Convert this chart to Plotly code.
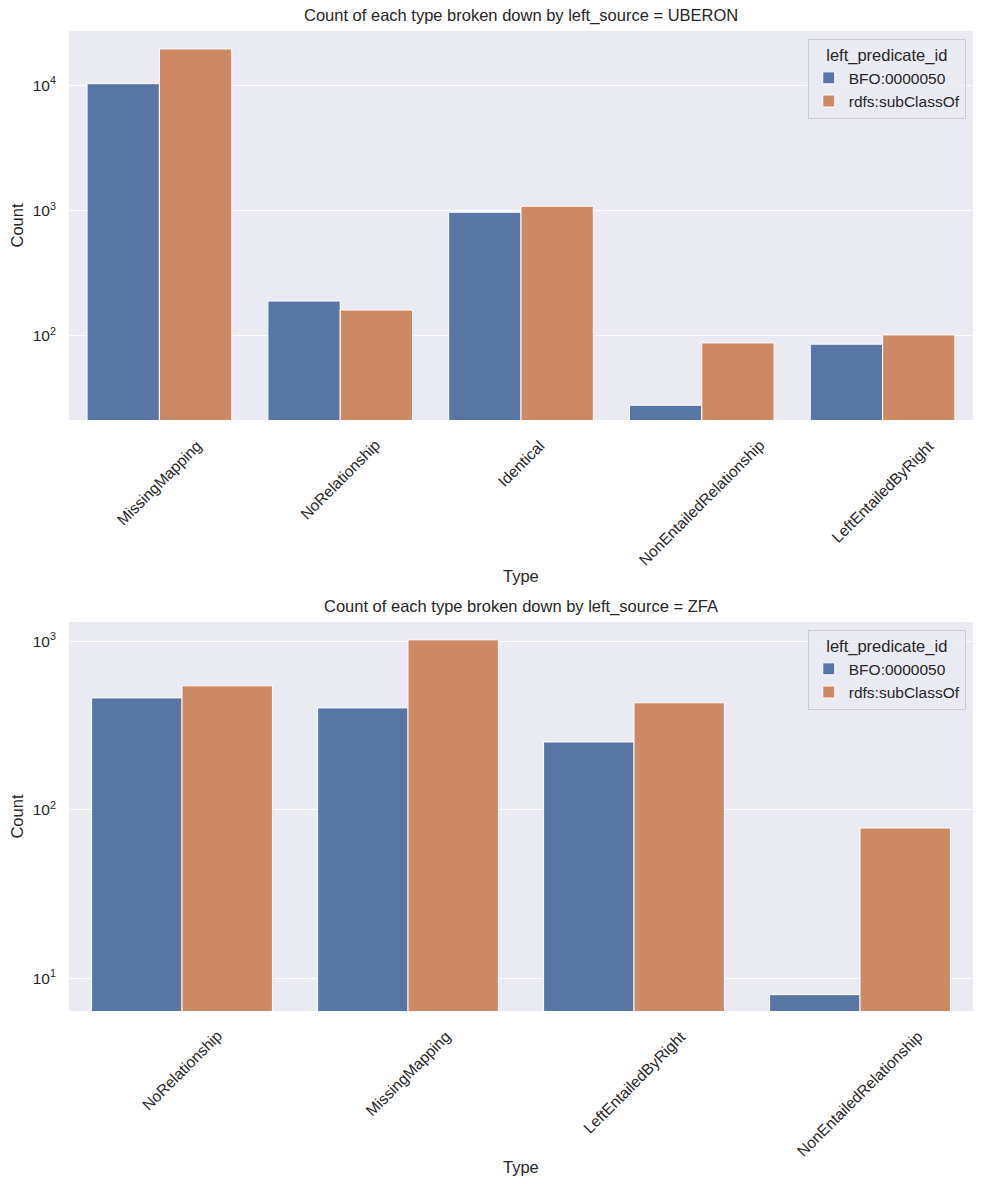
import plotly.graph_objects as go

# ---- data ----
uberon_types = ["MissingMapping", "NoRelationship", "Identical", "NonEntailedRelationship", "LeftEntailedByRight"]
uberon_bfo = [10300, 190, 970, 28, 86]
uberon_subclass = [19500, 161, 1085, 88, 102]

zfa_types = ["NoRelationship", "MissingMapping", "LeftEntailedByRight", "NonEntailedRelationship"]
zfa_bfo = [462, 403, 253, 8]
zfa_subclass = [545, 1022, 432, 78]

series_names = ["BFO:0000050", "rdfs:subClassOf"]
colors = ["#5975A4", "#CC8963"]

FONT = "Liberation Sans, Arial, sans-serif"
TXT = "#262626"

fig = go.Figure()

panels = [
    (uberon_types, [uberon_bfo, uberon_subclass], "x", "y", "legend",
     "Count of each type broken down by left_source = UBERON"),
    (zfa_types, [zfa_bfo, zfa_subclass], "x2", "y2", "legend2",
     "Count of each type broken down by left_source = ZFA"),
]

for cats, vals, xa, ya, lg, title in panels:
    for name, v, c in zip(series_names, vals, colors):
        fig.add_trace(go.Bar(
            x=cats, y=v, name=name, xaxis=xa, yaxis=ya, legend=lg,
            marker=dict(color=c, line=dict(color="white", width=1)),
        ))

common_y = dict(type="log", showgrid=True, gridcolor="white", gridwidth=1.3,
                zeroline=False, showline=False, ticks="",
                tickfont=dict(size=15.5, color=TXT, family=FONT),
                ticklabelstandoff=12,
                title=dict(text="Count", font=dict(size=16.5, color=TXT, family=FONT), standoff=4))
common_x = dict(showgrid=False, zeroline=False, showline=False, ticks="",
                showticklabels=False, type="category")

legend_common = dict(xanchor="right", yanchor="top",
                     bgcolor="rgba(234,234,242,0.8)", bordercolor="#CCCCD2", borderwidth=1,
                     title=dict(text="left_predicate_id", side="top center",
                                font=dict(size=16.5, color=TXT, family=FONT)),
                     font=dict(size=15.5, color=TXT, family=FONT),
                     tracegroupgap=4)

fig.update_layout(
    width=984, height=1184,
    margin=dict(l=69, r=11, t=31, b=173),
    paper_bgcolor="white", plot_bgcolor="#EAEAF2",
    barmode="group", bargap=0.2, bargroupgap=0,
    font=dict(family=FONT, color=TXT),
    xaxis=dict(domain=[0, 1], anchor="y", range=[-0.5, 4.5], **common_x),
    yaxis=dict(domain=[0.6031, 1], anchor="x", range=[1.33, 4.433],
               tickvals=[100, 1000, 10000],
               ticktext=["10<sup>2</sup>", "10<sup>3</sup>", "10<sup>4</sup>"], **common_y),
    xaxis2=dict(domain=[0, 1], anchor="y2", range=[-0.5, 3.5], **common_x),
    yaxis2=dict(domain=[0, 0.3969], anchor="x2", range=[0.806, 3.115],
                tickvals=[10, 100, 1000],
                ticktext=["10<sup>1</sup>", "10<sup>2</sup>", "10<sup>3</sup>"], **common_y),
    legend=dict(x=0.992, y=0.992, **legend_common),
    legend2=dict(x=0.992, y=0.389, **legend_common),
    showlegend=True,
)

annotations = []
for cats, vals, xa, ya, lg, title in panels:
    yd = ya + " domain"
    xd = xa + " domain"
    # rotated category tick labels
    for c in cats:
        annotations.append(dict(
            x=c, xref=xa, y=0, yref=yd, yshift=-14,
            text=c, textangle=-45, showarrow=False,
            xanchor="center", yanchor="top",
            font=dict(size=15.5, color=TXT, family=FONT)))
    # x-axis title
    annotations.append(dict(
        x=0.5, xref=xd, y=0, yref=yd, yshift=-145,
        text="Type", showarrow=False, xanchor="center", yanchor="top",
        font=dict(size=16.5, color=TXT, family=FONT)))
    # subplot title
    annotations.append(dict(
        x=0.5, xref=xd, y=1, yref=yd, yshift=4,
        text=title, showarrow=False, xanchor="center", yanchor="bottom",
        font=dict(size=16.5, color=TXT, family=FONT)))

fig.update_layout(annotations=annotations)

fig.write_html("out.html")
